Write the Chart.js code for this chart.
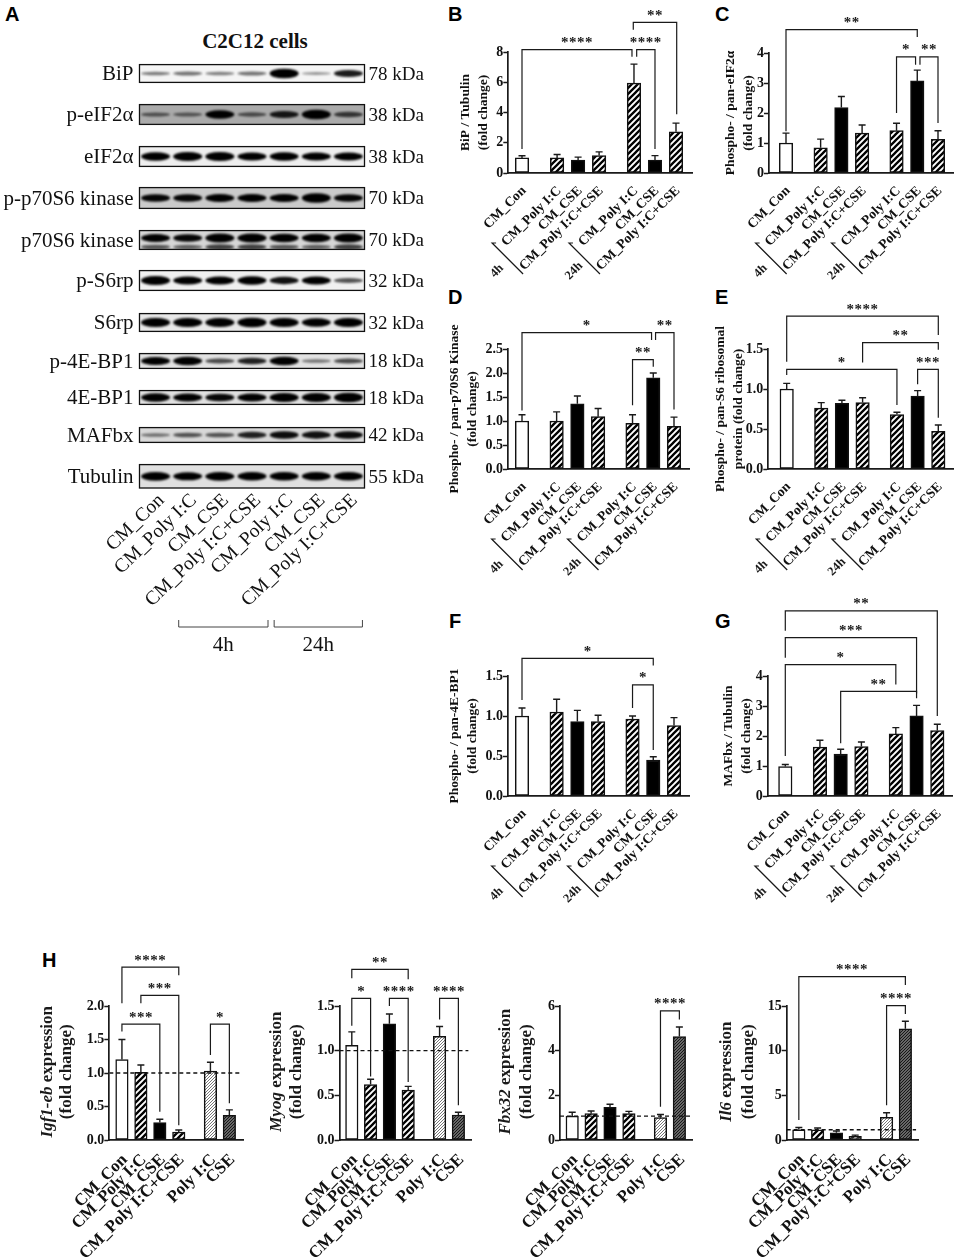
<!DOCTYPE html>
<html lang="en">
<head>
<meta charset="UTF-8">
<title>C2C12 cells</title>
<script src="https://cdn.jsdelivr.net/npm/chart.js"></script>
<style>
  html, body { margin: 0; padding: 0; background: #fff; }
  #page { position: relative; width: 955px; height: 1257px; overflow: hidden; }
  canvas { position: absolute; }
  .letter { position: absolute; font: bold 20px "Liberation Sans", sans-serif; color: #000; line-height: 20px; }
  .head { position: absolute; left: 155px; width: 200px; top: 29px; text-align: center; font: bold 21px "Liberation Serif", serif; color: #111; }
</style>
</head>
<body>
<div id="page">
  <div class="head">C2C12 cells</div>
</div>
<script>
// ---- data ----
const laneLabels = ['CM_Con', 'CM_Poly I:C', 'CM_CSE', 'CM_Poly I:C+CSE', 'CM_Poly I:C', 'CM_CSE', 'CM_Poly I:C+CSE'];
const geneLabels = ['CM_Con', 'CM_Poly I:C', 'CM_CSE', 'CM_Poly I:C+CSE', 'Poly I:C', 'CSE'];

// blot band strength per lane, 0..1
const blotNames = ['BiP', 'p-eIF2α', 'eIF2α', 'p-p70S6 kinase', 'p70S6 kinase', 'p-S6rp', 'S6rp', 'p-4E-BP1', '4E-BP1', 'MAFbx', 'Tubulin'];
const blotKda = ['78 kDa', '38 kDa', '38 kDa', '70 kDa', '70 kDa', '32 kDa', '32 kDa', '18 kDa', '18 kDa', '42 kDa', '55 kDa'];
const bandsBip = [.22, .26, .2, .26, 1, .1, .65];
const bandsPeif = [.28, .25, .85, .32, .65, 1, .45];
const bandsEif = [.85, .9, .9, .8, .85, .8, .8];
const bandsPp70 = [.75, .75, .8, .8, .8, 1, .75];
const bandsP70 = [.8, .75, .9, .9, .85, .85, .95];
const bandsP70Lower = [.35, .3, .45, .45, .35, .3, .45];
const bandsPs6 = [.9, .8, .8, .85, .7, .8, .4];
const bandsS6 = [.95, .9, .95, 1, .95, .85, .9];
const bandsP4e = [.8, .85, .42, .62, .85, .22, .42];
const bands4e = [.85, .8, .75, .8, .9, .9, 1];
const bandsMaf = [.22, .36, .36, .62, .72, .7, .72];
const bandsTub = [.9, .8, .9, .85, .85, .85, .85];
const groupNames = ['4h', '24h'];

const valuesB = [1, 1, .85, 1.15, 5.95, .85, 2.72];
const semB = [.14, .22, .2, .25, 1.25, .3, .58];
const valuesC = [1, .84, 2.18, 1.33, 1.41, 3.07, 1.12];
const semC = [.33, .29, .37, .27, .25, .36, .29];
const valuesD = [1, 1, 1.36, 1.09, .95, 1.9, .89];
const semD = [.13, .19, .16, .17, .18, .1, .19];
const valuesE = [1, .76, .82, .83, .68, .91, .47];
const semE = [.07, .07, .04, .06, .03, .07, .08];
const valuesF = [1, 1.05, .93, .93, .96, .45, .88];
const semF = [.1, .16, .14, .08, .04, .04, .1];
const valuesG = [.98, 1.63, 1.4, 1.65, 2.07, 2.67, 2.18];
const semG = [.07, .23, .16, .15, .21, .35, .21];
const valuesIgf = [1.2, 1.01, .26, .12, 1.03, .37];
const semIgf = [.3, .11, .05, .03, .13, .08];
const valuesMyog = [1.06, .62, 1.3, .56, 1.16, .28];
const semMyog = [.15, .06, .11, .04, .11, .03];
const valuesFbx = [1.07, 1.18, 1.46, 1.18, 1, 4.63];
const semFbx = [.17, .12, .14, .1, .14, .43];
const valuesIl6 = [1.15, 1.15, .8, .4, 2.55, 12.45];
const semIl6 = [.25, .2, .2, .15, .5, .85];

const ticksB = ['0', '2', '4', '6', '8'];
const ticksC = ['0', '1', '2', '3', '4'];
const ticksD = ['0.0', '0.5', '1.0', '1.5', '2.0', '2.5'];
const ticksE = ['0.0', '0.5', '1.0', '1.5'];
const ticksF = ['0.0', '0.5', '1.0', '1.5'];
const ticksG = ['0', '1', '2', '3', '4'];
const ticksIgf = ['0.0', '0.5', '1.0', '1.5', '2.0'];
const ticksMyog = ['0.0', '0.5', '1.0', '1.5'];
const ticksFbx = ['0', '2', '4', '6'];
const ticksIl6 = ['0', '5', '10', '15'];

// significance: from bar, to bar, level, left end, right end, stars, x nudges
const sigB = [[0, 4, 8.16, 1.58, 7.68, '****', 0, -2], [4, 5, 8.16, 7.68, 1.58, '****', 2.7, 0], [4, 6, 9.96, 9.47, 3.88, '**', -.7, .7]];
const sigC = [[0, 5, 4.78, 1.39, 4.53, '**', 0, 0], [4, 5, 3.87, 2, 3.61, '*', 0, -1.7], [5, 6, 3.87, 3.61, 1.67, '**', 2.7, 0]];
const sigD = [[0, 5, 2.84, 1.22, 2.69, '*', 0, -1.7], [5, 6, 2.84, 2.69, 1.24, '**', 2.3, 0], [4, 5, 2.28, 1.33, 2.13, '**', 0, 0]];
const sigE = [[0, 6, 1.91, 1.34, 1.675, '****', 0, 0], [3, 6, 1.58, 1.33, 1.49, '**', 0, 0], [0, 4, 1.246, 1.175, .8, '*', 0, 0], [5, 6, 1.246, 1.06, .64, '***', 0, 0]];
const sigF = [[0, 5, 1.72, 1.2, 1.63, '*', 0, 0], [4, 5, 1.39, 1.1, .575, '*', 0, 0]];
const sigG = [[0, 6, 6.17, 5.51, 2.67, '**', 0, 0], [0, 5, 5.28, 4.61, 3.42, '***', 0, 0], [0, 4, 4.38, 1.33, 3.72, '*', 0, 0], [2, 5, 3.49, 1.76, 3.26, '**', 0, 0]];
const sigIgf = [[0, 3, 2.58, 2.04, 2.46, '****', 0, 0], [1, 3, 2.16, 2.04, .22, '***', 0, 0], [0, 2, 1.73, 1.62, .42, '***', 0, 0], [4, 5, 1.73, 1.27, .55, '*', 0, 0]];
const sigMyog = [[0, 3, 1.91, 1.81, 1.8, '**', 0, 0], [0, 1, 1.586, 1.28, .71, '*', 0, 0], [2, 3, 1.586, 1.5, .65, '****', 0, 0], [4, 5, 1.586, 1.35, .39, '****', 0, 0]];
const sigFbx = [[4, 5, 5.78, 1.49, 5.4, '****', 0, 0]];
const sigIl6 = [[0, 5, 18.28, 2.24, 17.35, '****', 0, 0], [4, 5, 15.04, 3.9, 14.1, '****', 0, 0]];

// ---- layout and styles ----
const page = document.getElementById('page');
const SERIF = '"Liberation Serif", serif';
const INK = '#1a1a1a';

[['A', 5, 4], ['B', 448, 4], ['C', 715, 4], ['D', 448, 287], ['E', 715, 287], ['F', 449, 611], ['G', 715, 611], ['H', 42, 950]].forEach(l => {
  const d = document.createElement('div');
  d.className = 'letter';
  d.textContent = l[0];
  d.style.left = l[1] + 'px';
  d.style.top = l[2] + 'px';
  page.appendChild(d);
});

function stripes(period, width, bg, fg) {
  const c = document.createElement('canvas');
  c.width = c.height = period;
  const g = c.getContext('2d');
  g.fillStyle = bg;
  g.fillRect(0, 0, period, period);
  g.strokeStyle = fg;
  g.lineWidth = width;
  g.beginPath();
  for (let k = -1; k <= 1; k++) {
    g.moveTo(k * period - 1, period + 1);
    g.lineTo(k * period + period + 1, -1);
  }
  g.stroke();
  return g.createPattern(c, 'repeat');
}
const hatch = stripes(6, 2.3, '#fff', '#000');
const fineLight = stripes(3, .9, '#fff', '#666');
const fineDark = stripes(3, 1.1, '#8a8a8a', '#111');
const fillsBlot = ['#fff', hatch, '#000', hatch, hatch, '#000', hatch];
const fillsGene = ['#fff', hatch, '#000', hatch, fineLight, fineDark];
const slotsBlot = [0, 1.67, 2.67, 3.67, 5.33, 6.33, 7.33];
const slotsGene = [0, 1, 2, 3, 4.67, 5.67];

function canvasAt(left, top, w, h) {
  const c = document.createElement('canvas');
  c.width = w;
  c.height = h;
  c.style.left = left + 'px';
  c.style.top = top + 'px';
  page.appendChild(c);
  return c;
}

// error bars, brackets, diagonal group marks and mixed-font titles
function marks(p) {
  return {
    id: 'marks',
    afterDatasetsDraw(chart) {
      const ctx = chart.ctx, xs = chart.scales.x, ys = chart.scales.y;
      const px = i => xs.getPixelForValue(p.slots[i]);
      ctx.save();
      ctx.strokeStyle = INK;
      ctx.lineWidth = 1.4;
      p.values.forEach((v, i) => {
        const top = ys.getPixelForValue(v + p.sem[i]), x = px(i);
        ctx.beginPath();
        ctx.moveTo(x, ys.getPixelForValue(v));
        ctx.lineTo(x, top);
        ctx.moveTo(x - 3.5, top);
        ctx.lineTo(x + 3.5, top);
        ctx.stroke();
      });
      ctx.lineWidth = 1.2;
      p.sig.forEach(s => {
        const x0 = px(s[0]) + s[6], x1 = px(s[1]) + s[7], lvl = ys.getPixelForValue(s[2]);
        ctx.beginPath();
        ctx.moveTo(x0, ys.getPixelForValue(s[3]));
        ctx.lineTo(x0, lvl);
        ctx.lineTo(x1, lvl);
        ctx.lineTo(x1, ys.getPixelForValue(s[4]));
        ctx.stroke();
        ctx.fillStyle = INK;
        ctx.font = 'bold 15px ' + SERIF;
        ctx.letterSpacing = '0.5px';
        ctx.textAlign = 'center';
        ctx.textBaseline = 'alphabetic';
        ctx.fillText(s[5], (x0 + x1) / 2, lvl - 2.5);
        ctx.letterSpacing = '0px';
      });
      const base = ys.getPixelForValue(0);
      if (p.groups) {
        p.groups.forEach((first, g) => {
          const x = px(first);
          ctx.lineWidth = 1.2;
          ctx.beginPath();
          ctx.moveTo(x - 61, base + 70);
          ctx.lineTo(x - 65, base + 70);
          ctx.lineTo(x - 34, base + 101);
          ctx.stroke();
          ctx.save();
          ctx.translate(x - 60, base + 98);
          ctx.rotate(-Math.PI / 4);
          ctx.font = 'bold 12.5px ' + SERIF;
          ctx.textAlign = 'center';
          ctx.textBaseline = 'middle';
          ctx.fillStyle = INK;
          ctx.fillText(groupNames[g], 0, 0);
          ctx.restore();
        });
      }
      if (p.geneTitle) {
        const ax = xs.left, cy = 1071.7 - chart.canvas.offsetTop;
        [[p.geneTitle, p.titleDx[0]], [[[false, '(fold change)']], p.titleDx[1]]].forEach(line => {
          ctx.save();
          ctx.translate(ax + line[1], cy);
          ctx.rotate(-Math.PI / 2);
          ctx.fillStyle = INK;
          ctx.textBaseline = 'middle';
          ctx.textAlign = 'left';
          let total = 0;
          const font = (it) => (it ? 'italic bold 17px ' : 'bold 17px ') + SERIF;
          line[0].forEach(sp => {
            ctx.font = font(sp[0]);
            total += ctx.measureText(sp[1]).width;
          });
          let at = -total / 2;
          line[0].forEach(sp => {
            ctx.font = font(sp[0]);
            ctx.fillText(sp[1], at, 0);
            at += ctx.measureText(sp[1]).width;
          });
          ctx.restore();
        });
      }
      ctx.restore();
    }
  };
}

function barPanel(p) {
  const above = 80, below = 125;
  const plotH = p.base - p.top, w = p.end - p.left + 2, h = above + plotH + below;
  const unit = (p.barN - p.bar0) / p.slots[p.slots.length - 1];
  const xMin = -(p.bar0 - p.axis) / unit, xMax = (p.end - p.bar0) / unit;
  const step = p.yMax / (p.ticks.length - 1);
  const datasets = [{
    type: 'bar',
    data: p.values.map((v, i) => ({ x: p.slots[i], y: v })),
    backgroundColor: p.fills,
    borderColor: '#111',
    borderWidth: 1.5,
    borderSkipped: false,
    barThickness: p.barW,
    order: 2
  }];
  if (p.dashAt !== undefined) {
    datasets.push({
      type: 'line',
      data: [{ x: xMin, y: p.dashAt }, { x: xMax - .15, y: p.dashAt }],
      borderColor: '#111',
      borderWidth: 1.4,
      borderDash: [4, 3],
      pointRadius: 0,
      order: 1
    });
  }
  new Chart(canvasAt(p.left, p.top - above, w, h), {
    data: { datasets },
    plugins: [marks(p)],
    options: {
      responsive: false,
      animation: false,
      layout: { padding: { top: above, right: 2 } },
      plugins: { legend: { display: false }, tooltip: { enabled: false } },
      scales: {
        x: {
          type: 'linear',
          min: xMin,
          max: xMax,
          offset: false,
          grid: { display: false },
          border: { display: true, color: INK, width: 1.7 },
          afterBuildTicks: s => { s.ticks = p.slots.map(v => ({ value: v })); },
          afterFit: s => { s.height = below; },
          ticks: {
            autoSkip: false,
            minRotation: 45,
            maxRotation: 45,
            padding: p.labelPad,
            labelOffset: p.labelShift,
            color: '#111',
            font: { family: SERIF, weight: 'bold', size: p.labelSize },
            callback: (v, i) => p.labels[i]
          }
        },
        y: {
          type: 'linear',
          min: 0,
          max: p.yMax,
          grid: { drawOnChartArea: false, tickLength: 5, tickWidth: 1.5, tickColor: INK },
          border: { display: true, color: INK, width: 1.7 },
          afterBuildTicks: s => { s.ticks = p.ticks.map((t, i) => ({ value: i * step })); },
          afterFit: s => { s.width = p.axis - p.left; },
          title: p.title ? {
            display: true,
            text: p.title,
            color: '#111',
            padding: 0,
            font: { family: SERIF, weight: 'bold', size: 13.5, lineHeight: 1.35 }
          } : { display: false },
          ticks: {
            padding: 0,
            color: '#111',
            font: { family: SERIF, weight: 'bold', size: 14 },
            callback: (v, i) => p.ticks[i]
          }
        }
      }
    }
  });
}

const blotPanel = { slots: slotsBlot, fills: fillsBlot, barW: 13.5, labels: laneLabels, labelSize: 13.6, labelPad: 2, labelShift: 2, groups: [1, 4] };
const genePanel = { slots: slotsGene, fills: fillsGene, barW: 12.5, labels: geneLabels, labelSize: 17, labelPad: 2, labelShift: 3, top: 1006, base: 1140 };

barPanel({ ...blotPanel, left: 456, axis: 508.3, end: 692, top: 52.3, base: 174, bar0: 522, barN: 676, yMax: 8,
  values: valuesB, sem: semB, ticks: ticksB, sig: sigB, title: ['BiP / Tubulin', '(fold change)'] });
barPanel({ ...blotPanel, left: 721, axis: 769, end: 953, top: 53.3, base: 173.3, bar0: 786, barN: 938, yMax: 4,
  values: valuesC, sem: semC, ticks: ticksC, sig: sigC, title: ['Phospho- / pan-eIF2α', '(fold change)'] });
barPanel({ ...blotPanel, left: 445, axis: 508, end: 689, top: 348.7, base: 468.7, bar0: 522, barN: 674, yMax: 2.5,
  values: valuesD, sem: semD, ticks: ticksD, sig: sigD, title: ['Phospho- / pan-p70S6 Kinase', '(fold change)'] });
barPanel({ ...blotPanel, left: 711, axis: 768.3, end: 953, top: 349, base: 469, bar0: 786.7, barN: 938.3, yMax: 1.5,
  values: valuesE, sem: semE, ticks: ticksE, sig: sigE, title: ['Phospho- / pan-S6 ribosomal', 'protein (fold change)'] });
barPanel({ ...blotPanel, left: 445, axis: 508, end: 689, top: 676, base: 796, bar0: 522, barN: 674, yMax: 1.5,
  values: valuesF, sem: semF, ticks: ticksF, sig: sigF, title: ['Phospho- / pan-4E-BP1', '(fold change)'] });
barPanel({ ...blotPanel, left: 719, axis: 767.7, end: 952, top: 676, base: 796, bar0: 785.3, barN: 937.3, yMax: 4,
  values: valuesG, sem: semG, ticks: ticksG, sig: sigG, title: ['MAFbx / Tubulin', '(fold change)'] });

barPanel({ ...genePanel, left: 30, axis: 109.3, end: 244, bar0: 122, barN: 230, yMax: 2, dashAt: 1,
  values: valuesIgf, sem: semIgf, ticks: ticksIgf, sig: sigIgf, titleDx: [-62, -43], geneTitle: [[true, 'Igf1-eb'], [false, ' expression']] });
barPanel({ ...genePanel, left: 265, axis: 339.5, end: 473.3, bar0: 352, barN: 460.3, yMax: 1.5, dashAt: 1,
  values: valuesMyog, sem: semMyog, ticks: ticksMyog, sig: sigMyog, titleDx: [-62.5, -42.5], geneTitle: [[true, 'Myog'], [false, ' expression']] });
barPanel({ ...genePanel, left: 490, axis: 560, end: 694, bar0: 572.3, barN: 680.3, yMax: 6, dashAt: 1.07,
  values: valuesFbx, sem: semFbx, ticks: ticksFbx, sig: sigFbx, titleDx: [-54, -33], geneTitle: [[true, 'Fbx32'], [false, ' expression']] });
barPanel({ ...genePanel, left: 710, axis: 786.7, end: 920.7, bar0: 799, barN: 907, yMax: 15, dashAt: 1.15,
  values: valuesIl6, sem: semIl6, ticks: ticksIl6, sig: sigIl6, titleDx: [-60, -38], geneTitle: [[true, 'Il6'], [false, ' expression']] });

// ---- western blot rows ----
const blotRows = [
  { top: 59.5, bottom: 87, bg: '#f5f5f5', bands: bandsBip },
  { top: 100, bottom: 129, bg: '#aaaaaa', bands: bandsPeif },
  { top: 142, bottom: 171, bg: '#eeeeee', bands: bandsEif },
  { top: 183, bottom: 213, bg: '#cacaca', bands: bandsPp70 },
  { top: 226, bottom: 254, bg: '#d6d6d6', bands: bandsP70, lower: bandsP70Lower },
  { top: 266, bottom: 295.5, bg: '#f0f0f0', bands: bandsPs6 },
  { top: 308.5, bottom: 336, bg: '#e8e8e8', bands: bandsS6 },
  { top: 349, bottom: 373, bg: '#e2e2e2', bands: bandsP4e },
  { top: 386, bottom: 409, bg: '#e0e0e0', bands: bands4e },
  { top: 423, bottom: 447, bg: '#d8d8d8', bands: bandsMaf },
  { top: 460, bottom: 488, bg: '#e0e0e0', bands: bandsTub, last: true }
];
const ROW_PAD = 14;

function drawBands(ctx, xs, cy, strengths, spread) {
  strengths.forEach((s, i) => {
    ctx.fillStyle = 'rgba(0,0,0,' + Math.min(1, .3 + s * .9) + ')';
    ctx.beginPath();
    ctx.ellipse(xs.getPixelForValue(i), cy, spread, 1 + 3.8 * s, 0, 0, Math.PI * 2);
    ctx.fill();
  });
}

const blotMarks = {
  id: 'blotMarks',
  beforeDatasetsDraw(chart) {
    const r = chart.config.options.plugins.blotRow, a = chart.chartArea, ctx = chart.ctx, xs = chart.scales.x;
    ctx.save();
    ctx.fillStyle = r.bg;
    ctx.fillRect(a.left, a.top, a.width, a.height);
    ctx.beginPath();
    ctx.rect(a.left, a.top, a.width, a.height);
    ctx.clip();
    ctx.filter = 'blur(1.3px)';
    const cy = (a.top + a.bottom) / 2;
    if (r.lower) {
      drawBands(ctx, xs, cy + 7, r.lower, 14.5);
      drawBands(ctx, xs, cy - 2, r.bands, 14.5);
    } else {
      drawBands(ctx, xs, cy, r.bands, 14.5);
    }
    ctx.restore();
    ctx.save();
    ctx.strokeStyle = '#111';
    ctx.lineWidth = 1.3;
    ctx.strokeRect(a.left, a.top, a.width, a.height);
    if (r.last) {
      // 4h / 24h brackets under the lane names
      const lane = i => xs.getPixelForValue(i);
      [[lane(1) - 9, lane(3) + 16, 0], [lane(4) - 10, lane(6) + 14, 1]].forEach(g => {
        const yb = a.bottom + 627 - r.bottom;
        ctx.strokeStyle = '#444';
        ctx.lineWidth = 1;
        ctx.beginPath();
        ctx.moveTo(g[0], yb - 7);
        ctx.lineTo(g[0], yb);
        ctx.lineTo(g[1], yb);
        ctx.lineTo(g[1], yb - 7);
        ctx.stroke();
        ctx.fillStyle = '#111';
        ctx.font = '21px ' + SERIF;
        ctx.textAlign = 'center';
        ctx.textBaseline = 'middle';
        ctx.fillText(groupNames[g[2]], (g[0] + g[1]) / 2, yb + 18);
      });
    }
    ctx.restore();
  }
};

blotRows.forEach((r, n) => {
  const plotH = r.bottom - r.top, extra = r.last ? 190 : ROW_PAD;
  new Chart(canvasAt(0, r.top - ROW_PAD, 440, ROW_PAD + plotH + extra), {
    type: 'bar',
    data: {
      labels: laneLabels.map((l, i) => i + ':' + l),
      datasets: [{ data: r.bands, backgroundColor: 'transparent' }]
    },
    plugins: [blotMarks],
    options: {
      responsive: false,
      animation: false,
      layout: { padding: { top: ROW_PAD, bottom: r.last ? 0 : ROW_PAD } },
      plugins: { legend: { display: false }, tooltip: { enabled: false }, blotRow: r },
      scales: {
        x: {
          display: !!r.last,
          grid: { display: false, drawTicks: false },
          border: { display: false },
          afterFit: s => { if (r.last) s.height = extra; },
          ticks: {
            autoSkip: false,
            minRotation: 44,
            maxRotation: 44,
            padding: 1,
            labelOffset: 6,
            color: '#111',
            font: { family: SERIF, size: 19.5 },
            callback: (v, i) => laneLabels[i]
          }
        },
        y: { display: false, min: 0, max: 1 },
        nameAxis: {
          type: 'category',
          axis: 'y',
          position: 'left',
          offset: true,
          labels: [blotNames[n]],
          grid: { display: false, drawTicks: false },
          border: { display: false },
          afterFit: s => { s.width = 139.5; },
          ticks: { padding: 6, labelOffset: 1, color: '#111', font: { family: SERIF, size: 21 } }
        },
        kdaAxis: {
          type: 'category',
          axis: 'y',
          position: 'right',
          offset: true,
          labels: [blotKda[n]],
          grid: { display: false, drawTicks: false },
          border: { display: false },
          afterFit: s => { s.width = 75.5; },
          ticks: { padding: 4, labelOffset: 1.5, color: '#111', font: { family: SERIF, size: 19 } }
        }
      }
    }
  });
});
</script>
</body>
</html>
